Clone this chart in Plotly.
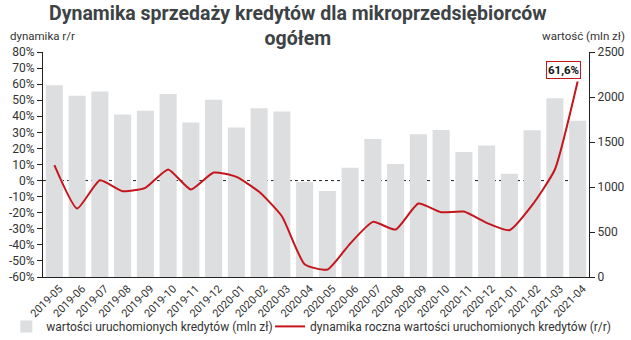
import plotly.graph_objects as go

months = ["2019-05","2019-06","2019-07","2019-08","2019-09","2019-10","2019-11","2019-12",
          "2020-01","2020-02","2020-03","2020-04","2020-05","2020-06","2020-07","2020-08",
          "2020-09","2020-10","2020-11","2020-12","2021-01","2021-02","2021-03","2021-04"]
values_mln = [2130, 2013, 2061, 1805, 1846, 2032, 1716, 1969,
              1660, 1876, 1838, 1055, 955, 1214, 1534, 1256,
              1586, 1634, 1389, 1460, 1147, 1631, 1985, 1735]
dynamics_pct = [9.6, -17.4, 0.2, -6.6, -4.5, 6.9, -5.6, 5.0,
                2.3, -7.0, -22.2, -52.1, -55.4, -39.2, -25.7, -30.5,
                -14.3, -19.7, -19.3, -26.3, -30.9, -15.3, 6.9, 61.6]
left_ticks = [80, 70, 60, 50, 40, 30, 20, 10, 0, -10, -20, -30, -40, -50, -60]
left_tick_text = ["80%", "70%", "60%", "50%", "40%", "30%", "20%", "10%", "0%",
                  "-10%", "-20%", "-30%", "-40%", "-50%", "-60%"]
right_ticks = [0, 500, 1000, 1500, 2000, 2500]
last_label = "61,6%"

FONT = "Roboto"
TXT = "#333333"
RED = "#c4161c"
GRAY = "#dcdedf"

fig = go.Figure()
fig.add_trace(go.Bar(
    x=months, y=values_mln, name="wartości uruchomionych kredytów (mln zł)",
    marker=dict(color=GRAY, line=dict(width=0)), yaxis="y", legend="legend"))
fig.add_trace(go.Scatter(
    x=months, y=dynamics_pct, name="dynamika roczna wartości uruchomionych kredytów (r/r)",
    mode="lines", line=dict(color=RED, width=2, shape="spline", smoothing=0.5), yaxis="y2",
    legend="legend2"))

legend_common = dict(orientation="h", xref="container", yref="container", xanchor="left",
                     yanchor="middle", y=0.04, font=dict(size=12, color=TXT),
                     bgcolor="rgba(0,0,0,0)", itemwidth=30)

fig.update_layout(
    width=631, height=340,
    margin=dict(l=43, r=42, t=52, b=63),
    paper_bgcolor="white", plot_bgcolor="white",
    font=dict(family=FONT, size=11.5, color=TXT),
    bargap=0.25,
    showlegend=True,
    legend=dict(legend_common, x=0.01),
    legend2=dict(legend_common, x=0.428),
    xaxis=dict(type="category", tickangle=-45, showline=True, linecolor="#222222",
               linewidth=1, ticks="", showgrid=False, tickfont=dict(size=11, color=TXT),
               automargin=False, ticklabelshift=5),
    yaxis=dict(side="right", range=[0, 2500], tickvals=right_ticks, showline=True,
               linecolor="#222222", linewidth=1, ticks="outside", ticklen=5,
               tickcolor="#222222", showgrid=False, zeroline=False,
               tickfont=dict(size=12, color=TXT), automargin=False),
    yaxis2=dict(overlaying="y", side="left", range=[-60, 80], tickvals=left_ticks,
                ticktext=left_tick_text, showline=True, linecolor="#222222", linewidth=1,
                ticks="outside", ticklen=5, tickcolor="#222222", showgrid=False,
                zeroline=False, tickfont=dict(size=12, color=TXT), automargin=False),
)

fig.add_shape(type="line", xref="paper", x0=0, x1=1, yref="y2", y0=0, y1=0,
              line=dict(color="#222222", width=1, dash="dot"), layer="below")

fig.add_annotation(xref="paper", yref="paper", x=0.467, y=1.115, xanchor="center", yanchor="middle",
                   text="<b>Dynamika sprzedaży kredytów dla mikroprzedsiębiorców<br>ogółem</b>",
                   showarrow=False, font=dict(size=19.5, color="#3d4245", family=FONT))
fig.add_annotation(xref="paper", yref="paper", x=-0.065, y=1.069, xanchor="left", yanchor="middle",
                   text="dynamika r/r", showarrow=False, font=dict(size=11.5, color=TXT))
fig.add_annotation(xref="paper", yref="paper", x=1.07, y=1.069, xanchor="right", yanchor="middle",
                   text="wartość (mln zł)", showarrow=False, font=dict(size=11.5, color=TXT))
fig.add_annotation(xref="x", yref="y2", x=months[-1], y=dynamics_pct[-1], text="<b>" + last_label + "</b>",
                   showarrow=False, xshift=-14, yshift=12, bgcolor="white",
                   bordercolor=RED, borderwidth=1, borderpad=1,
                   font=dict(size=11.5, color="#111111"))

fig.write_html("out.html")
